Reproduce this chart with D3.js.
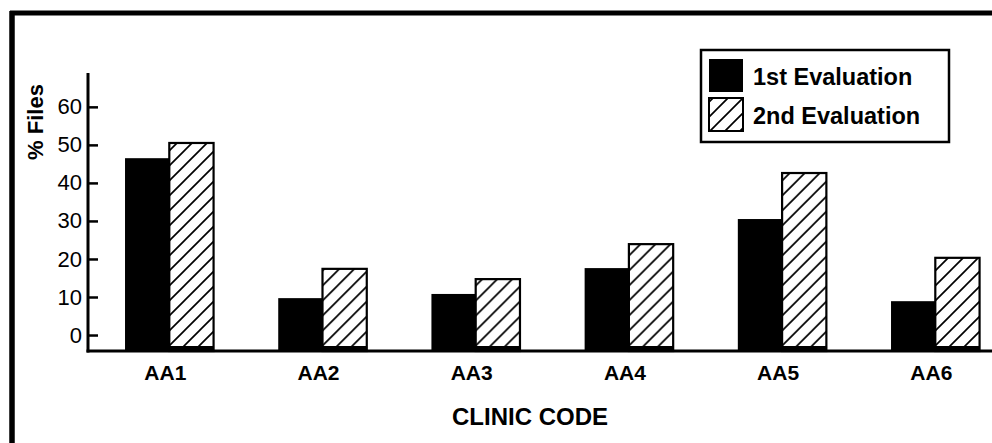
<!DOCTYPE html>
<html>
<head>
<meta charset="utf-8">
<script src="https://cdn.jsdelivr.net/npm/d3@7"></script>
<style>
  html, body { margin: 0; padding: 0; background: #fff; }
  svg { display: block; font-family: "Liberation Sans", Arial, Helvetica, sans-serif; }
</style>
</head>
<body>
<svg id="chart" width="992" height="443"></svg>
<script>
// Share of files per clinic, two evaluation rounds
const clinics = ["AA1", "AA2", "AA3", "AA4", "AA5", "AA6"];
const seriesNames = ["1st Evaluation", "2nd Evaluation"];
const firstEval = [46.5, 9.7, 10.8, 17.6, 30.5, 8.9];
const secondEval = [50.5, 17.4, 14.7, 23.9, 42.6, 20.3];
const yTicks = [0, 10, 20, 30, 40, 50, 60];
const yLabel = "% Files";
const xLabel = "CLINIC CODE";

const svg = d3.select("#chart");
const W = 992, H = 443;

svg.append("rect").attr("width", W).attr("height", H).attr("fill", "#fff");

// hatch fill for the second round
const defs = svg.append("defs");
const hatch = defs.append("pattern")
  .attr("id", "hatch")
  .attr("patternUnits", "userSpaceOnUse")
  .attr("width", 15).attr("height", 15);
hatch.append("path")
  .attr("d", "M-2,2 L2,-2 M0,15 L15,0 M13,17 L17,13")
  .attr("stroke", "#000").attr("stroke-width", 1.7).attr("fill", "none");

// outer frame (top and left edges)
svg.append("line").attr("x1", 10).attr("x2", W).attr("y1", 13).attr("y2", 13)
  .attr("stroke", "#000").attr("stroke-width", 5);
svg.append("line").attr("x1", 12).attr("x2", 12).attr("y1", 11).attr("y2", H)
  .attr("stroke", "#000").attr("stroke-width", 5.5);

// scales
const y = d3.scaleLinear().domain([-4.2, 68.9]).range([351, 73]);
const x0 = d3.scaleBand().domain(clinics).range([92.7, 1011.9])
  .paddingInner(0.422).paddingOuter(0.211);
const x1 = d3.scaleBand().domain(seriesNames).range([0, x0.bandwidth()]).padding(0);

const rows = clinics.map((c, i) => ({ clinic: c, values: [firstEval[i], secondEval[i]] }));
const baseY = y.range()[0];
const axisX = 88;

// bars
const groups = svg.append("g").selectAll("g").data(rows).join("g")
  .attr("transform", d => `translate(${x0(d.clinic)},0)`);

groups.selectAll("rect").data(d => d.values.map((v, k) => ({ s: seriesNames[k], v })))
  .join("rect")
  .attr("x", d => x1(d.s))
  .attr("y", d => y(d.v))
  .attr("width", x1.bandwidth())
  .attr("height", d => baseY - y(d.v))
  .attr("fill", d => d.s === seriesNames[0] ? "#000" : "url(#hatch)")
  .attr("stroke", d => d.s === seriesNames[0] ? "none" : "#000")
  .attr("stroke-width", 2.2);

// thicker foot under each hatched bar
groups.append("line")
  .attr("x1", x1(seriesNames[1])).attr("x2", x1(seriesNames[1]) + x1.bandwidth())
  .attr("y1", baseY - 3).attr("y2", baseY - 3)
  .attr("stroke", "#000").attr("stroke-width", 4);

// y axis: ticks point inward, labels on the left
const yAxis = d3.axisLeft(y).tickValues(yTicks).tickSize(-10).tickPadding(6)
  .tickFormat(d3.format("d"));
const gy = svg.append("g").attr("transform", `translate(${axisX},0)`).call(yAxis);
gy.select(".domain").remove();
gy.selectAll(".tick line").attr("stroke", "#000").attr("stroke-width", 2.5);
gy.selectAll(".tick text").attr("font-size", 22).attr("fill", "#000")
  .attr("font-family", "\"Liberation Sans\", Arial, Helvetica, sans-serif");

svg.append("line").attr("x1", axisX).attr("x2", axisX)
  .attr("y1", y.range()[1]).attr("y2", baseY + 1.5)
  .attr("stroke", "#000").attr("stroke-width", 3);

// x axis
const xAxis = d3.axisBottom(x0).tickSize(0).tickPadding(14);
const gx = svg.append("g").attr("transform", `translate(0,${baseY})`).call(xAxis);
gx.select(".domain").remove();
gx.selectAll(".tick text").attr("font-size", 21).attr("font-weight", "bold")
  .attr("font-family", "\"Liberation Sans\", Arial, Helvetica, sans-serif")
  .attr("fill", "#000").attr("dx", -4);

svg.append("line").attr("x1", axisX - 1.5).attr("x2", W)
  .attr("y1", baseY).attr("y2", baseY)
  .attr("stroke", "#000").attr("stroke-width", 3);

// axis titles
svg.append("text")
  .attr("transform", `translate(43,122) rotate(-90)`)
  .attr("text-anchor", "middle")
  .attr("font-size", 22).attr("font-weight", "bold").attr("fill", "#000")
  .text(yLabel);

svg.append("text")
  .attr("x", 530).attr("y", 425)
  .attr("text-anchor", "middle")
  .attr("font-size", 24).attr("font-weight", "bold").attr("fill", "#000")
  .text(xLabel);

// legend
const lg = svg.append("g").attr("transform", "translate(701,50)");
lg.append("rect").attr("width", 248).attr("height", 92)
  .attr("fill", "#fff").attr("stroke", "#000").attr("stroke-width", 2.5);
seriesNames.forEach((name, k) => {
  const top = 9 + k * 39;
  lg.append("rect").attr("x", 8).attr("y", top).attr("width", 34).attr("height", 33)
    .attr("fill", k === 0 ? "#000" : "url(#hatch)")
    .attr("stroke", "#000").attr("stroke-width", k === 0 ? 0 : 2);
  lg.append("text").attr("x", 52).attr("y", top + 26)
    .attr("font-size", 23.5).attr("font-weight", "bold").attr("fill", "#000")
    .text(name);
});
</script>
</body>
</html>
